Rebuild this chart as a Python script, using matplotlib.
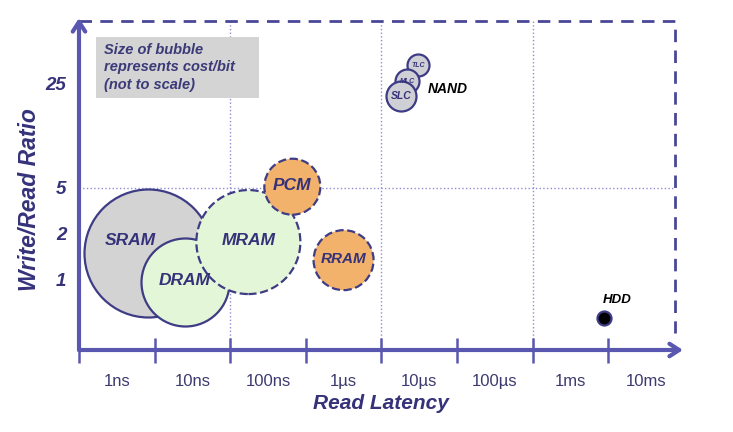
import numpy as np
import matplotlib
matplotlib.use("Agg")
import matplotlib.pyplot as plt
from matplotlib.patches import Rectangle

# memory technologies: read latency (s), write/read ratio, bubble size (rel. cost/bit)
names = ["SRAM", "DRAM", "MRAM", "PCM", "RRAM", "TLC", "MLC", "SLC", "HDD"]
latency = [2.6e-9, 8e-9, 5.5e-8, 2.1e-7, 1.0e-6, 9.6e-6, 7.0e-6, 5.8e-6, 2.8e-3]
ratio = [1.5, 0.97, 1.75, 5.1, 1.34, 33.5, 25.8, 20.5, 0.57]
cost = [128, 88, 104, 56, 60, 22, 24, 30, 14]

x_labels = ["1ns", "10ns", "100ns", "1µs", "10µs", "100µs", "1ms", "10ms"]
label_lat = [1e-9, 1e-8, 1e-7, 1e-6, 1e-5, 1e-4, 1e-3, 1e-2]
y_ticks = [1, 2, 5, 25]

navy = "#35327a"
axis_c = "#5a57b0"
grid_c = "#8f8dd0"
fills = ["#d3d3d3", "#e4f6d8", "#e4f6d8", "#f2b26b", "#f2b26b",
         "#cfcfd6", "#cfcfd6", "#cfcfd6", "#000000"]
styles = ["-", "-", "--", "--", "--", "-", "-", "-", "-"]
order = [1, 2, 3, 5, 4, 6, 7, 8, 9]

plt.rcParams["font.family"] = ["Liberation Sans", "DejaVu Sans"]

# hand-drawn ratio axis: piecewise log scale
la = np.log10([0.1, 1, 2, 5, 25, 100])
pa = np.array([-86, 70, 117, 162, 267, 352.0])


def fwd(y):
    y = np.clip(np.asarray(y, dtype=float), 1e-6, None)
    return np.interp(np.log10(y), la, pa)


def inv(p):
    return 10 ** np.interp(np.asarray(p, dtype=float), pa, la)


fig = plt.figure(figsize=(7.33, 4.32), dpi=100)
ax = fig.add_axes([79 / 733, 82 / 432, 604 / 733, 332 / 432])
ax.set_xscale("log")
ax.set_yscale("function", functions=(fwd, inv))
x0 = 10 ** -9.5
ax.set_xlim(x0, 10 ** (-9.5 + 7.99))
ax.set_ylim(inv(0), inv(332))

for s in ax.spines.values():
    s.set_visible(False)

# grid and dashed frame
x_right = 10 ** (-9.5 + 7.88)
y_top = inv(329)
for d in [2, 4, 6]:
    ax.plot([10 ** (-9.5 + d)] * 2, [inv(0), y_top], ls=":", color=grid_c, lw=1, zorder=0)
ax.plot([x0, x_right], [5, 5], ls=":", color=grid_c, lw=1, zorder=0)
ax.plot([x0, x_right, x_right], [y_top, y_top, inv(17)], ls="--", color="#4a4896",
        lw=2, dashes=(4.5, 3), zorder=0)

# bubbles
for i in range(len(names)):
    ax.scatter(latency[i], ratio[i], s=(cost[i] * 0.72) ** 2, c=fills[i],
               edgecolors="#3e3c84", linewidths=1.6, linestyles=styles[i],
               zorder=order[i])

lab = dict(color=navy, fontweight="bold", fontstyle="italic", ha="center",
           va="center", zorder=20)
ax.annotate("SRAM", (latency[0], ratio[0]), xytext=(-13, 9), textcoords="offset points",
            fontsize=12.5, **lab)
for i in [1, 2, 3]:
    ax.annotate(names[i], (latency[i], ratio[i]), xytext=(0, 1), textcoords="offset points",
                fontsize=12.5, **lab)
ax.annotate("RRAM", (latency[4], ratio[4]), xytext=(0, 1), textcoords="offset points",
            fontsize=11, **lab)
ax.annotate("SLC", (latency[7], ratio[7]), fontsize=7.5, **lab)
ax.annotate("MLC", (latency[6], ratio[6]), fontsize=5, **lab)
ax.annotate("TLC", (latency[5], ratio[5]), fontsize=5, **lab)
ax.annotate("NAND", (latency[7], ratio[7]), xytext=(19, 5), textcoords="offset points",
            fontsize=10, color="black", fontweight="bold", fontstyle="italic",
            ha="left", va="center")
ax.annotate("HDD", (latency[8], ratio[8]), xytext=(-1, 13), textcoords="offset points",
            fontsize=9.5, color="black", fontweight="bold", fontstyle="italic",
            ha="left", va="center")

# axes arrows
arrow = dict(arrowstyle="->,head_length=0.7,head_width=0.45", color=axis_c, lw=3,
             shrinkA=0, shrinkB=0)
ax.annotate("", xy=(1, 0), xytext=(0, 0), xycoords="axes fraction", arrowprops=arrow)
ax.annotate("", xy=(0, 1), xytext=(0, 0), xycoords="axes fraction", arrowprops=arrow)

# ticks
ax.set_xticks([10 ** (-9.5 + d) for d in range(8)])
ax.set_xticklabels([])
ax.tick_params(axis="x", which="major", direction="inout", length=18, width=1.8,
               color=axis_c)
ax.set_xticks(label_lat, minor=True)
ax.set_xticklabels(x_labels, minor=True, fontsize=12, color="#3c3a6e")
ax.tick_params(axis="x", which="minor", length=0, pad=17)
ax.set_yticks(y_ticks)
ax.set_yticklabels([str(v) for v in y_ticks], fontsize=13.5, color=navy,
                   fontweight="bold", fontstyle="italic")
ax.tick_params(axis="y", which="both", length=0, pad=9)
ax.yaxis.set_minor_locator(matplotlib.ticker.NullLocator())

ax.set_xlabel("Read Latency", fontsize=15, color=navy, fontweight="bold",
              fontstyle="italic", labelpad=4)
fig.text(30 / 733, 1 - 200 / 432, "Write/Read Ratio", rotation=90, fontsize=16.5,
         color=navy, fontweight="bold", fontstyle="italic", ha="center", va="center")

# note box
ax.add_patch(Rectangle((0.028, 0.759), 0.27, 0.184, transform=ax.transAxes,
                       fc="#d4d4d4", ec="none", zorder=1))
ax.text(0.041, 0.925, "Size of bubble\nrepresents cost/bit\n(not to scale)",
        transform=ax.transAxes, fontsize=10.5, color="#3b3a78", fontweight="bold",
        fontstyle="italic", ha="left", va="top", linespacing=1.3, zorder=2)

fig.savefig("out.png", dpi=100)
